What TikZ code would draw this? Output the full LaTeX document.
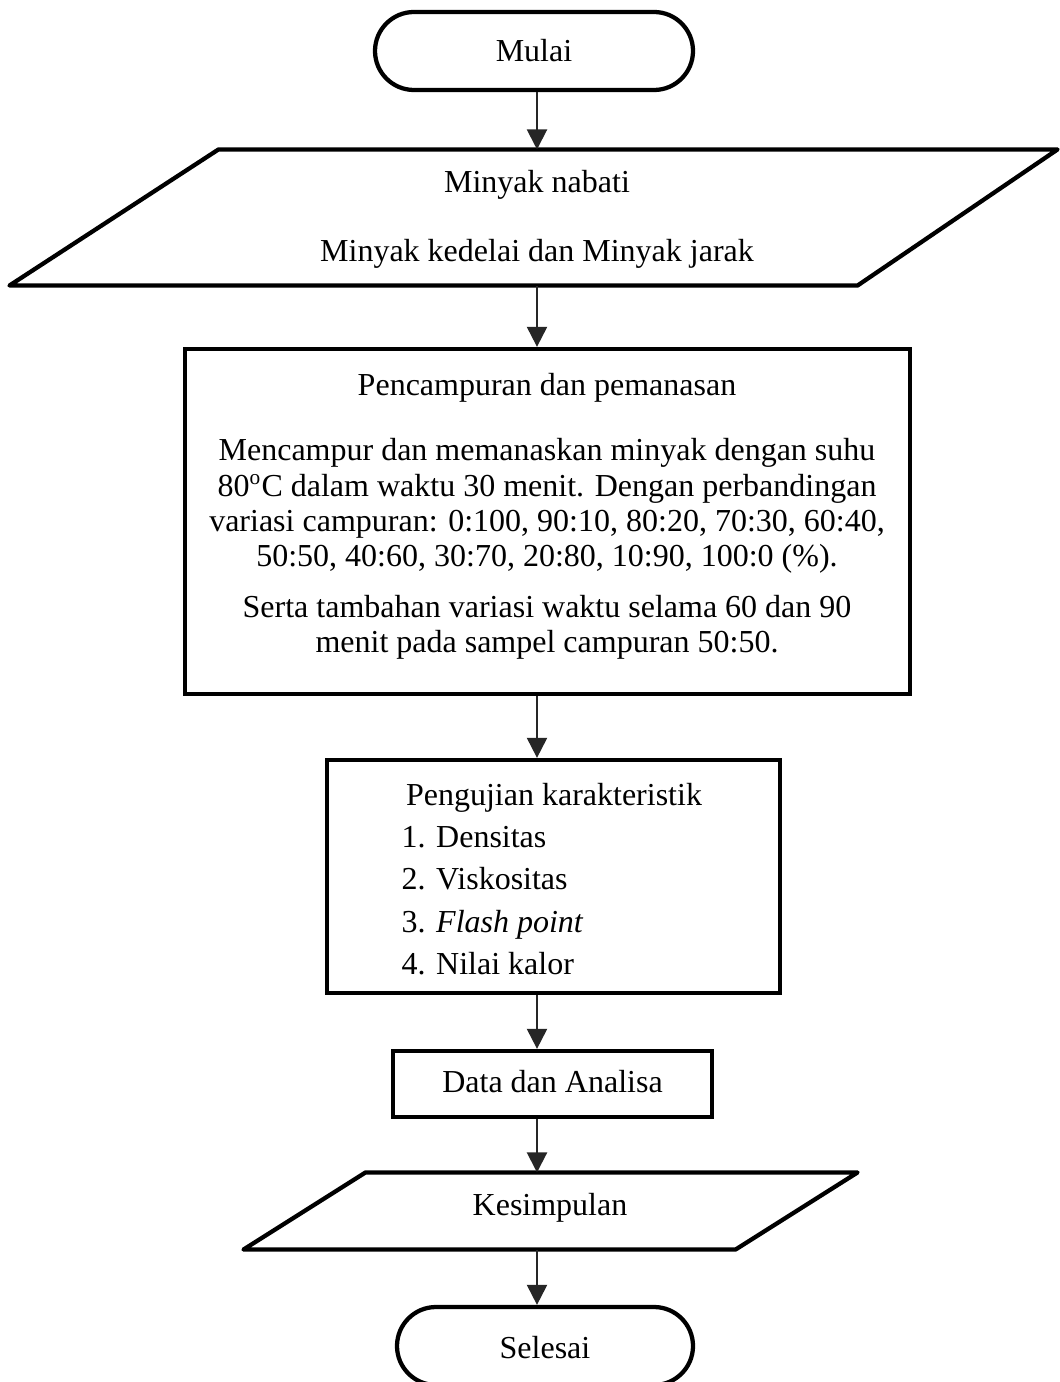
\documentclass[tikz,border=0pt]{standalone}
\usepackage{fontspec}
\setmainfont{Liberation Serif}
\usetikzlibrary{arrows.meta,shapes.misc,calc}
\newcommand\pxu{0.375pt}
\begin{document}
\begin{tikzpicture}[x=\pxu,y=-\pxu,
  font=\fontsize{12}{13.8}\selectfont,
  box/.style={draw,line width=1.6pt,rectangle,inner sep=0pt},
  term/.style={draw,line width=1.6pt,rounded rectangle,inner sep=0pt},
  ghost/.style={rectangle,inner sep=0pt},
  ln/.style={inner sep=0pt,text height=8.5pt,text depth=2.5pt},
  arr/.style={line width=0.8pt,draw=black!85,-{Triangle[width=7.5pt,length=7.5pt]}},
  shapeline/.style={line width=1.6pt,line join=round}
]
\useasboundingbox (0,0) rectangle (1059,1382);
\coordinate (axis) at (537,0);

% Mulai
\node[term,minimum width=318*\pxu,minimum height=78*\pxu] (mulai) at (534,51) {Mulai};

% Input 1
\node[ghost,minimum width=638*\pxu,minimum height=135*\pxu] (in1) at (538,217.5) {};
\draw[shapeline] (in1.north west) -- ($(in1.north east)+(200,0)$) -- (in1.south east) -- ($(in1.south west)+(-209,0)$) -- cycle;
\node[ln] (t1a) at (537,185) {Minyak nabati};
\node[ln] (t1b) at (537,254) {Minyak kedelai dan Minyak jarak};

% Process
\node[box,minimum width=725*\pxu,minimum height=345*\pxu] (proc) at (547.5,521.5) {};
\node[ln] (p0) at (547,388) {Pencampuran dan pemanasan};
\node[ln] (p1) at (547,453) {Mencampur dan memanaskan minyak dengan suhu};
\node[ln] (p2) at (547,488) {80\textsuperscript{o}C dalam waktu 30 menit. Dengan perbandingan};
\node[ln] (p3) at (547,523) {variasi campuran: 0:100, 90:10, 80:20, 70:30, 60:40,};
\node[ln] (p4) at (547,558) {50:50, 40:60, 30:70, 20:80, 10:90, 100:0 (\%).};
\node[ln] (p5) at (547,609) {Serta tambahan variasi waktu selama 60 dan 90};
\node[ln] (p6) at (547,644) {menit pada sampel campuran 50:50.};

% Pengujian
\node[box,minimum width=453*\pxu,minimum height=233*\pxu] (uji) at (553.5,876.5) {};
\node[ln] (u0) at (554,797) {Pengujian karakteristik};
\node[ln,anchor=west] (u1) at (401,839) {1. Densitas};
\node[ln,anchor=west] (u2) at (401,881) {2. Viskositas};
\node[ln,anchor=west] (u3) at (401,924) {3. \textit{Flash point}};
\node[ln,anchor=west] (u4) at (401,966) {4. Nilai kalor};

% Data
\node[box,minimum width=319*\pxu,minimum height=66*\pxu] (data) at (552.5,1084) {};
\node[ln] (dt) at (552.5,1084) {Data dan Analisa};

% Kesimpulan
\node[ghost,minimum width=369*\pxu,minimum height=76*\pxu] (in2) at (550.5,1211) {};
\draw[shapeline] (in2.north west) -- ($(in2.north east)+(122,0)$) -- (in2.south east) -- ($(in2.south west)+(-122,0)$) -- cycle;
\node[ln] (t2) at (550,1207) {Kesimpulan};

% Selesai
\node[term,minimum width=296*\pxu,minimum height=78*\pxu] (selesai) at (545,1346) {};
\node[ln] (st) at (545,1350) {Selesai};

% connectors
\draw[arr] (mulai.south -| axis) -- (in1.north -| axis);
\draw[arr] (in1.south -| axis) -- (proc.north -| axis);
\draw[arr] (proc.south -| axis) -- (uji.north -| axis);
\draw[arr] (uji.south -| axis) -- (data.north -| axis);
\draw[arr] (data.south -| axis) -- (in2.north -| axis);
\draw[arr] (in2.south -| axis) -- (selesai.north -| axis);
\end{tikzpicture}
\end{document}
